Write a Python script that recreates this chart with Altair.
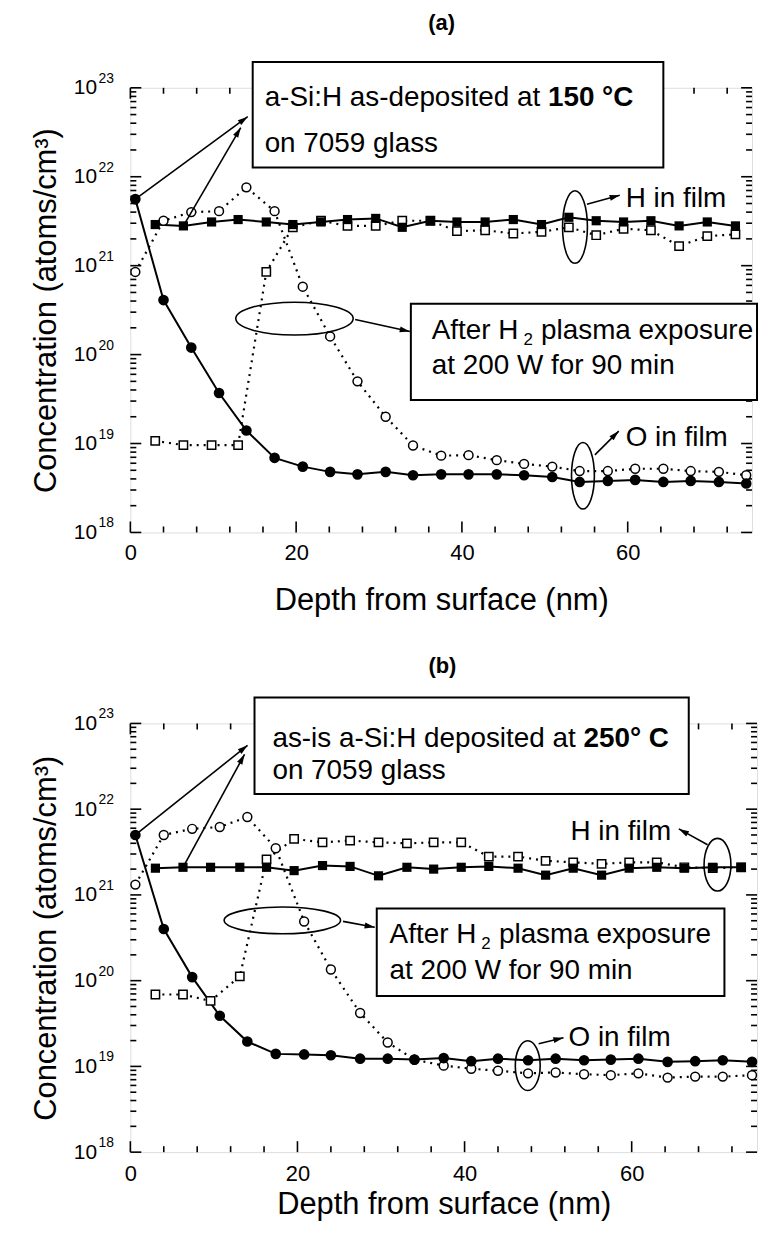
import math
import altair as alt
import pandas as pd

FONT = "Liberation Sans"

# ---------------- data ----------------
# panel (a): a-Si:H as-deposited at 150 C
a_circle_depth = [0.6, 4.0, 7.35, 10.7, 14.0, 17.4, 20.8, 24.1, 27.4, 30.8, 34.1, 37.5,
                  40.8, 44.2, 47.5, 50.9, 54.2, 57.6, 60.9, 64.3, 67.6, 71.0, 74.3]
a_O_asdep = [5.6e21, 4.1e20, 1.2e20, 3.7e19, 1.4e19, 6.9e18, 5.5e18, 4.8e18, 4.5e18, 4.8e18,
             4.4e18, 4.5e18, 4.5e18, 4.5e18, 4.4e18, 4.2e18, 3.7e18, 3.8e18, 3.9e18, 3.7e18,
             3.8e18, 3.7e18, 3.55e18]
a_O_plasma = [8.5e20, 3.2e21, 4.0e21, 4.1e21, 7.6e21, 4.1e21, 5.8e20, 1.6e20, 5.0e19, 2.0e19,
              9.5e18, 7.3e18, 7.4e18, 6.5e18, 5.9e18, 5.5e18, 4.9e18, 4.9e18, 5.2e18, 5.2e18,
              4.9e18, 4.8e18, 4.4e18]
a_square_depth = [3.0, 6.4, 9.8, 13.0, 16.4, 19.6, 23.0, 26.2, 29.6, 32.8, 36.2, 39.4, 42.8,
                  46.2, 49.6, 52.9, 56.2, 59.5, 62.8, 66.2, 69.6, 73.0]
a_H_asdep = [2.9e21, 2.8e21, 3.1e21, 3.3e21, 3.1e21, 2.9e21, 3.1e21, 3.3e21, 3.4e21, 2.7e21,
             3.2e21, 3.1e21, 3.1e21, 3.3e21, 2.9e21, 3.5e21, 3.2e21, 3.1e21, 3.2e21, 2.8e21,
             3.1e21, 2.8e21]
a_H_plasma = [1.07e19, 9.6e18, 9.6e18, 9.6e18, 8.5e20, 2.7e21, 3.2e21, 2.8e21, 2.8e21, 3.2e21,
              3.2e21, 2.45e21, 2.5e21, 2.3e21, 2.4e21, 2.7e21, 2.2e21, 2.6e21, 2.5e21, 1.66e21,
              2.15e21, 2.25e21]

# panel (b): as-is a-Si:H deposited at 250 C
b_circle_depth = [0.6, 4.0, 7.4, 10.7, 14.0, 17.4, 20.8, 24.0, 27.5, 30.8, 34.0, 37.5, 40.8,
                  44.0, 47.6, 50.9, 54.3, 57.5, 60.8, 64.3, 67.6, 70.9, 74.4]
b_O_asdep = [5.0e21, 4.0e20, 1.1e20, 3.9e19, 1.95e19, 1.4e19, 1.38e19, 1.35e19, 1.23e19, 1.23e19,
             1.2e19, 1.25e19, 1.15e19, 1.23e19, 1.18e19, 1.23e19, 1.18e19, 1.2e19, 1.23e19,
             1.13e19, 1.15e19, 1.18e19, 1.13e19]
b_O_plasma = [1.32e21, 5.0e21, 5.9e21, 6.2e21, 8.1e21, 3.5e21, 4.9e20, 1.35e20, 4.2e19, 1.9e19,
              1.2e19, 1.02e19, 9.4e18, 8.9e18, 8.3e18, 8.5e18, 8.1e18, 7.9e18, 8.3e18, 7.4e18,
              7.6e18, 7.6e18, 7.9e18]
b_square_depth = [3.0, 6.3, 9.6, 13.1, 16.3, 19.6, 23.0, 26.3, 29.7, 33.1, 36.3, 39.6, 42.9,
                  46.4, 49.7, 53.0, 56.4, 59.7, 63.0, 66.3, 69.7, 73.1]
b_H_asdep = [2.05e21, 2.1e21, 2.1e21, 2.1e21, 2.1e21, 1.92e21, 2.2e21, 2.15e21, 1.67e21, 2.1e21,
             2.0e21, 2.1e21, 2.15e21, 2.05e21, 1.7e21, 2.05e21, 1.7e21, 2.05e21, 2.1e21,
             2.05e21, 2.1e21, 2.1e21]
b_H_plasma = [6.9e19, 6.9e19, 5.8e19, 1.12e20, 2.6e21, 4.5e21, 4.1e21, 4.3e21, 4.1e21, 4.0e21,
              4.1e21, 4.1e21, 2.8e21, 2.8e21, 2.5e21, 2.4e21, 2.3e21, 2.4e21, 2.4e21, 2.1e21,
              2.05e21, 2.1e21]

# axis ticks / labels
x_major = [0, 20, 40, 60]
x_minor = [4, 8, 12, 16, 24, 28, 32, 36, 44, 48, 52, 56, 64, 68, 72]
y_decades = [1e18, 1e19, 1e20, 1e21, 1e22, 1e23]
y_exponents = ["18", "19", "20", "21", "22", "23"]
y_minor = [m * 10.0 ** e for e in range(18, 23) for m in range(2, 10)]

X_DOMAIN = [0, 75]
Y_DOMAIN = [1e18, 1e23]
TXT = 28

ARROW_PATH = "M0,-1L0.5,0.7L-0.5,0.7Z"


def ellipse_path(w, h):
    m = max(w, h)
    rx, ry = w / m, h / m
    k = 0.5523
    p = (f"M{rx},0C{rx},{k*ry} {k*rx},{ry} 0,{ry}"
         f"C{-k*rx},{ry} {-rx},{k*ry} {-rx},0"
         f"C{-rx},{-k*ry} {-k*rx},{-ry} 0,{-ry}"
         f"C{k*rx},{-ry} {rx},{-k*ry} {rx},0Z")
    return p, m * m


def build_panel(W, H, series, ann, lab_pad, title_pad):
    xs = alt.Scale(domain=X_DOMAIN, nice=False, zero=False)
    ys = alt.Scale(type="log", domain=Y_DOMAIN, nice=False)
    xaxis = alt.Axis(values=x_major, format="d", title="Depth from surface (nm)",
                     labelFontSize=22, labelPadding=lab_pad, titlePadding=title_pad,
                     titleFontSize=31, titleFontWeight="normal", labelFlush=False,
                     labelBound=False, ticks=False, tickSize=0, domain=False, grid=False)
    yaxis = alt.Axis(values=y_decades, labelExpr="'10'", title="Concentration (atoms/cm³)",
                     labelFontSize=21, labelPadding=34, titlePadding=11, titleFontSize=31,
                     titleFontWeight="normal", labelFlush=False, labelOverlap=False,
                     labelBound=False, ticks=False, tickSize=0, domain=False, grid=False)

    def X(f):
        return alt.X(f, scale=xs, axis=xaxis)

    def Y(f):
        return alt.Y(f, scale=ys, axis=yaxis)

    def to_px(x, y):
        return x / 75 * W, (23 - math.log10(y)) / 5 * H

    def from_px(px, py):
        return px / W * 75, 10 ** (23 - py / H * 5)

    layers = []
    # inward ticks on all four sides
    for vals, L in [(x_major, 11), (x_minor, 6)]:
        d = pd.DataFrame({"v": vals})
        layers.append(alt.Chart(d).mark_rule(color="black", strokeWidth=1.6).encode(
            x=X("v:Q"), y=alt.value(H), y2=alt.value(H - L)))
        layers.append(alt.Chart(d).mark_rule(color="black", strokeWidth=1.6).encode(
            x=X("v:Q"), y=alt.value(0), y2=alt.value(L)))
    for vals, L in [(y_decades, 11), (y_minor, 6)]:
        d = pd.DataFrame({"v": vals})
        layers.append(alt.Chart(d).mark_rule(color="black", strokeWidth=1.6).encode(
            y=Y("v:Q"), x=alt.value(0), x2=alt.value(L)))
        layers.append(alt.Chart(d).mark_rule(color="black", strokeWidth=1.6).encode(
            y=Y("v:Q"), x=alt.value(W), x2=alt.value(W - L)))
    # exponent of the y tick labels
    de = pd.DataFrame({"v": y_decades, "e": y_exponents})
    layers.append(alt.Chart(de).mark_text(align="left", baseline="alphabetic", fontSize=14,
                                          dy=-5, font=FONT, color="black").encode(
        x=alt.value(-32), y=Y("v:Q"), text="e:N"))

    # data series
    (cx, o_dep, o_pl, sx, h_dep, h_pl) = series
    dotted = dict(strokeDash=[2, 5], strokeWidth=2.2)
    for xv, yv, style in [(cx, o_pl, dotted), (sx, h_pl, dotted),
                          (cx, o_dep, dict(strokeWidth=2)), (sx, h_dep, dict(strokeWidth=2))]:
        d = pd.DataFrame({"x": xv, "c": yv})
        layers.append(alt.Chart(d).mark_line(color="black", **style).encode(
            x=X("x:Q"), y=Y("c:Q")))
    for xv, yv, shape, filled, size in [(cx, o_pl, "circle", False, 80),
                                        (sx, h_pl, "square", False, 70),
                                        (cx, o_dep, "circle", True, 115),
                                        (sx, h_dep, "square", True, 85)]:
        d = pd.DataFrame({"x": xv, "c": yv})
        if filled:
            mk = alt.Chart(d).mark_point(shape=shape, filled=True, color="black", size=size,
                                         opacity=1)
        else:
            mk = alt.Chart(d).mark_point(shape=shape, filled=True, fill="white", stroke="black",
                                         strokeWidth=1.5, size=size, opacity=1)
        layers.append(mk.encode(x=X("x:Q"), y=Y("c:Q")))

    # annotation boxes
    for (x1, x2, y1, y2) in ann["boxes"]:
        d = pd.DataFrame({"x1": [x1], "x2": [x2], "y1": [y1], "y2": [y2]})
        layers.append(alt.Chart(d).mark_rect(fill="white", stroke="black", strokeWidth=2).encode(
            x=X("x1:Q"), x2="x2:Q", y=Y("y1:Q"), y2="y2:Q"))
    # texts
    for t in ann["texts"]:
        d = pd.DataFrame({"x": [t["x"]], "y": [t["y"]], "t": [t["t"]]})
        layers.append(alt.Chart(d).mark_text(
            align=t.get("align", "left"), baseline=t.get("baseline", "alphabetic"),
            fontSize=t.get("fs", TXT), fontWeight=t.get("fw", "normal"),
            dx=t.get("dx", 0), dy=t.get("dy", 0), font=FONT, color="black").encode(
            x=X("x:Q"), y=Y("y:Q"), text="t:N"))
    # ellipses
    for (ex, ey, w, h) in ann["ellipses"]:
        path, size = ellipse_path(w, h)
        d = pd.DataFrame({"x": [ex], "y": [ey]})
        layers.append(alt.Chart(d).mark_point(shape=path, size=size, filled=False,
                                              stroke="black", strokeWidth=1.6, opacity=1).encode(
            x=X("x:Q"), y=Y("y:Q")))
    # arrows
    ar = pd.DataFrame(ann["arrows"], columns=["x1", "y1", "x2", "y2"])
    layers.append(alt.Chart(ar).mark_rule(color="black", strokeWidth=1.6).encode(
        x=X("x1:Q"), y=Y("y1:Q"), x2="x2:Q", y2="y2:Q"))
    heads = []
    s = 6.0
    for (x1, y1, x2, y2) in ann["arrows"]:
        p1 = to_px(x1, y1)
        p2 = to_px(x2, y2)
        dx, dy = p2[0] - p1[0], p2[1] - p1[1]
        n = math.hypot(dx, dy)
        ux, uy = dx / n, dy / n
        hx, hy = from_px(p2[0] - ux * s, p2[1] - uy * s)
        heads.append({"x": hx, "y": hy, "a": math.degrees(math.atan2(ux, -uy)) % 360})
    hd = pd.DataFrame(heads)
    layers.append(alt.Chart(hd).mark_point(shape=ARROW_PATH, filled=True, color="black",
                                           size=(2 * s) ** 2, opacity=1).encode(
        x=X("x:Q"), y=Y("y:Q"), angle=alt.Angle("a:Q", scale=None)))

    return alt.layer(*layers).properties(width=W, height=H)


SUB_DX = 3.112 * TXT + 5      # after "After H"
REST_DX = 3.39 * TXT + 15     # start of "plasma exposure"

ann_a = {
    "boxes": [(14.76, 64.3, 1.27e22, 1.95e23), (33.84, 75.6, 3.08e19, 3.74e20)],
    "texts": [
        {"x": 37.56, "y": 5.3e23, "t": "(a)", "align": "center", "baseline": "middle",
         "fs": 22, "fw": "bold"},
        {"x": 16.2, "y": 6.3e22, "t": "a-Si:H as-deposited at"},
        {"x": 16.2, "y": 6.3e22, "t": "150 °C", "fw": "bold", "dx": 10.171 * TXT},
        {"x": 16.2, "y": 1.9e22, "t": "on 7059 glass"},
        {"x": 59.76, "y": 4.55e21, "t": "H in film"},
        {"x": 36.36, "y": 1.5e20, "t": "After H"},
        {"x": 36.36, "y": 1.5e20, "t": "2", "fs": 17, "dx": SUB_DX, "dy": 6},
        {"x": 36.36, "y": 1.5e20, "t": "plasma exposure", "dx": REST_DX},
        {"x": 36.36, "y": 6.0e19, "t": "at 200 W for 90 min"},
        {"x": 59.76, "y": 9.4e18, "t": "O in film"},
    ],
    "ellipses": [(53.64, 2.72e21, 25, 73), (19.8, 2.54e20, 118, 33), (54.6, 4.34e18, 23, 67)],
    "arrows": [(0.6, 5.6e21, 14.16, 4.74e22), (6.4, 2.8e21, 13.32, 3.57e22),
               (55.08, 4.91e21, 59.04, 6.2e21), (27.12, 2.48e20, 33.72, 1.82e20),
               (56.04, 7.45e18, 58.92, 1.38e19)],
}

ann_b = {
    "boxes": [(14.86, 66.83, 1.5e22, 2.0e23), (29.49, 71.1, 6.62e19, 6.95e20)],
    "texts": [
        {"x": 37.34, "y": 4.71e23, "t": "(b)", "align": "center", "baseline": "middle",
         "fs": 22, "fw": "bold"},
        {"x": 17.0, "y": 5.27e22, "t": "as-is a-Si:H deposited at"},
        {"x": 17.0, "y": 5.27e22, "t": "250° C", "fw": "bold", "dx": 11.171 * TXT},
        {"x": 17.0, "y": 2.24e22, "t": "on 7059 glass"},
        {"x": 52.68, "y": 4.4e21, "t": "H in film"},
        {"x": 31.03, "y": 2.73e20, "t": "After H"},
        {"x": 31.03, "y": 2.73e20, "t": "2", "fs": 17, "dx": SUB_DX, "dy": 6},
        {"x": 31.03, "y": 2.73e20, "t": "plasma exposure", "dx": REST_DX},
        {"x": 31.03, "y": 1.04e20, "t": "at 200 W for 90 min"},
        {"x": 52.44, "y": 1.74e19, "t": "O in film"},
    ],
    "ellipses": [(70.27, 2.25e21, 27, 53), (18.19, 5.05e20, 117, 27), (47.56, 1.02e19, 25, 50)],
    "arrows": [(0.6, 5.0e21, 14.03, 5.56e22), (6.3, 2.1e21, 13.67, 4.36e22),
               (69.08, 3.85e21, 65.64, 5.89e21), (25.45, 4.91e20, 29.25, 4.19e20),
               (48.87, 1.84e19, 51.84, 2.16e19)],
}

panel_a = build_panel(625, 447, (a_circle_depth, a_O_asdep, a_O_plasma,
                                 a_square_depth, a_H_asdep, a_H_plasma), ann_a, 10, 22)
panel_b = build_panel(630, 431, (b_circle_depth, b_O_asdep, b_O_plasma,
                                 b_square_depth, b_H_asdep, b_H_plasma), ann_b, 12, 5)

chart = alt.vconcat(panel_a, panel_b, spacing=38).properties(
    padding={"left": 22, "top": 0, "right": 0, "bottom": 0}
).configure_view(
    stroke="black", strokeWidth=2.5
).configure_axis(
    labelFont=FONT, titleFont=FONT, labelColor="black", titleColor="black",
    titleFontWeight="normal"
).configure(font=FONT)

chart.save("out.html", embed_options={"renderer": "svg", "actions": False})
